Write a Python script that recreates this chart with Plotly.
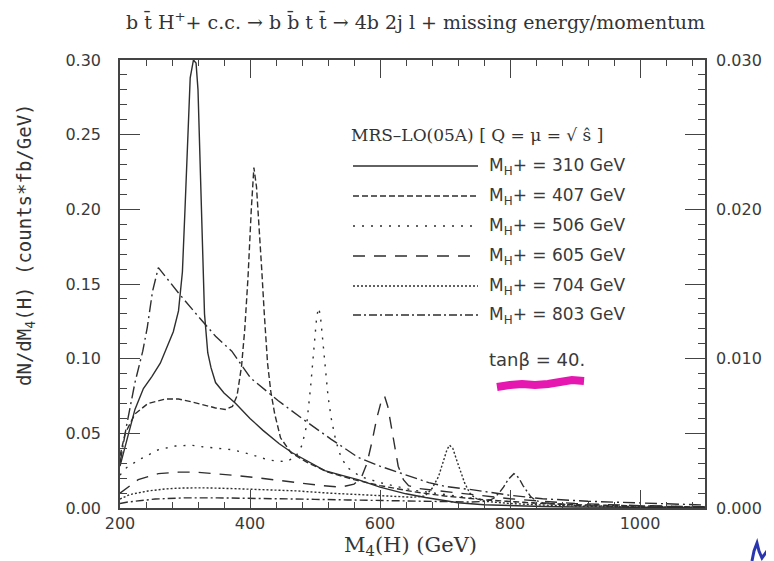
import plotly.graph_objects as go

# ---------------- data ----------------
mh310_x = [200, 212, 223, 236, 249, 262, 272, 282, 290, 296, 300, 304, 308, 313, 317, 320, 323, 326, 330, 335, 340, 347, 360, 378, 400, 420, 445, 465, 490, 515, 540, 566, 600, 640, 670, 700, 720, 760, 800, 850, 900, 1000, 1100]
mh310_y = [0.028, 0.048, 0.066, 0.080, 0.088, 0.097, 0.107, 0.118, 0.132, 0.158, 0.200, 0.250, 0.288, 0.300, 0.298, 0.280, 0.235, 0.175, 0.130, 0.104, 0.094, 0.084, 0.077, 0.070, 0.060, 0.052, 0.043, 0.037, 0.031, 0.025, 0.022, 0.019, 0.014, 0.0095, 0.0070, 0.0050, 0.0035, 0.0022, 0.0015, 0.0010, 0.0007, 0.0004, 0.0002]

mh407_x = [200, 208, 223, 243, 270, 290, 311, 330, 347, 362, 373, 380, 387, 392, 397, 402, 406, 410, 414, 418, 422, 427, 432, 438, 447, 463, 490, 520, 560, 600, 650, 700, 760, 800, 850, 900, 1000, 1100]
mh407_y = [0.035, 0.050, 0.063, 0.070, 0.073, 0.073, 0.071, 0.069, 0.067, 0.066, 0.068, 0.075, 0.095, 0.120, 0.155, 0.200, 0.228, 0.215, 0.190, 0.160, 0.130, 0.097, 0.078, 0.063, 0.047, 0.037, 0.030, 0.024, 0.019, 0.015, 0.011, 0.008, 0.0055, 0.0042, 0.003, 0.0022, 0.0012, 0.0006]

mh506_x = [200, 210, 228, 245, 259, 285, 310, 327, 350, 373, 400, 430, 455, 470, 480, 487, 493, 498, 502, 505, 508, 512, 516, 520, 525, 532, 540, 550, 570, 600, 650, 700, 750, 800, 900, 1000, 1100]
mh506_y = [0.022, 0.027, 0.032, 0.036, 0.039, 0.0415, 0.042, 0.041, 0.040, 0.039, 0.036, 0.032, 0.031, 0.034, 0.042, 0.055, 0.080, 0.105, 0.125, 0.134, 0.130, 0.112, 0.092, 0.075, 0.060, 0.045, 0.034, 0.027, 0.021, 0.017, 0.012, 0.009, 0.006, 0.0042, 0.0022, 0.0012, 0.0006]

mh605_x = [200, 210, 228, 259, 290, 316, 345, 373, 416, 468, 510, 540, 560, 571, 580, 588, 595, 601, 607, 612, 617, 622, 628, 636, 644, 660, 700, 750, 800, 850, 900, 1000, 1100]
mh605_y = [0.010, 0.013, 0.019, 0.023, 0.024, 0.024, 0.023, 0.022, 0.020, 0.017, 0.015, 0.014, 0.016, 0.020, 0.030, 0.045, 0.060, 0.070, 0.075, 0.068, 0.055, 0.042, 0.028, 0.019, 0.015, 0.013, 0.011, 0.0085, 0.0062, 0.0045, 0.003, 0.0016, 0.0008]

mh704_x = [200, 215, 243, 270, 296, 330, 373, 420, 470, 520, 570, 620, 650, 669, 680, 690, 697, 703, 707, 712, 718, 724, 730, 738, 746, 761, 800, 850, 900, 1000, 1100]
mh704_y = [0.006, 0.009, 0.0114, 0.0128, 0.0134, 0.0135, 0.013, 0.0125, 0.0115, 0.010, 0.0088, 0.0076, 0.0072, 0.0080, 0.013, 0.021, 0.030, 0.039, 0.042, 0.040, 0.032, 0.024, 0.017, 0.010, 0.0067, 0.0045, 0.0030, 0.0020, 0.0013, 0.0006, 0.0003]

mh803_x = [200, 212, 254, 300, 350, 400, 450, 500, 550, 600, 650, 700, 740, 765, 775, 783, 790, 797, 803, 806, 810, 815, 820, 826, 832, 840, 850, 900, 1000, 1100]
mh803_y = [0.003, 0.004, 0.006, 0.0068, 0.0068, 0.0066, 0.0062, 0.0058, 0.0054, 0.0050, 0.0046, 0.0042, 0.0040, 0.0045, 0.0065, 0.010, 0.014, 0.019, 0.022, 0.023, 0.022, 0.019, 0.015, 0.011, 0.0075, 0.005, 0.0035, 0.0018, 0.0008, 0.0004]

bkg_x = [200, 210, 223, 235, 242, 250, 259, 270, 290, 321, 347, 372, 401, 443, 483, 525, 566, 600, 633, 675, 700, 746, 800, 850, 920, 1000, 1100]
bkg_y = [0.030, 0.055, 0.084, 0.105, 0.121, 0.145, 0.161, 0.155, 0.144, 0.128, 0.115, 0.105, 0.087, 0.072, 0.059, 0.046, 0.034, 0.028, 0.023, 0.017, 0.0145, 0.012, 0.0085, 0.0062, 0.0045, 0.0032, 0.0020]

legend_labels = ["M<sub>H</sub>+ = 310 GeV", "M<sub>H</sub>+ = 407 GeV", "M<sub>H</sub>+ = 506 GeV",
                 "M<sub>H</sub>+ = 605 GeV", "M<sub>H</sub>+ = 704 GeV", "M<sub>H</sub>+ = 803 GeV"]
x_ticks = [200, 400, 600, 800, 1000]
y_ticks = [0.00, 0.05, 0.10, 0.15, 0.20, 0.25, 0.30]
y2_ticks = [0.000, 0.010, 0.020, 0.030]

# ---------------- styling ----------------
INK = "#2e2e2e"
AX = "#444444"
dashes = ["solid", "6px,3px", "2px,7px", "12px,9px", "2px,2px", "8px,3px,2px,3px"]
series = [(mh310_x, mh310_y), (mh407_x, mh407_y), (mh506_x, mh506_y),
          (mh605_x, mh605_y), (mh704_x, mh704_y), (mh803_x, mh803_y)]

PAGE_W, PAGE_H = 774, 561
OFF = 8                      # default page body margin
W, H = PAGE_W - OFF, PAGE_H - OFF
L, R, T, B = 120, 705, 60, 508   # plot area in page pixels


def px(xp):
    return (xp - L) / (R - L)


def py(yp):
    return (B - yp) / (B - T)


fig = go.Figure()
fig.add_trace(go.Scatter(x=bkg_x, y=bkg_y, mode="lines", showlegend=False,
                         line=dict(color=INK, width=1.4, dash="12px,4px,2px,4px")))
for (xs, ys), d, lab in zip(series, dashes, legend_labels):
    fig.add_trace(go.Scatter(x=xs, y=ys, mode="lines", name=lab, showlegend=False,
                             line=dict(color=INK, width=1.4, dash=d)))
fig.add_trace(go.Scatter(x=[], y=[], yaxis="y2", showlegend=False))

tickfont = dict(family="DejaVu Sans", size=16, color="#3a3a3a")
serif = "DejaVu Serif"

fig.update_layout(
    width=W, height=H,
    margin=dict(l=L - OFF, r=PAGE_W - R, t=T - OFF, b=PAGE_H - B),
    paper_bgcolor="white", plot_bgcolor="white",
    showlegend=False,
    xaxis=dict(range=[200, 1100], tickvals=x_ticks, ticks="inside", ticklen=18,
               tickwidth=1.3, tickcolor=AX, showline=True, linecolor=AX, linewidth=1.5,
               mirror="ticks", showgrid=False, zeroline=False, tickfont=tickfont,
               ticklabelstandoff=0,
               minor=dict(dtick=40, tick0=200, ticks="inside", ticklen=6, tickwidth=1.2,
                          tickcolor=AX, showgrid=False)),
    yaxis=dict(range=[0, 0.30], tickvals=y_ticks, tickformat=".2f", ticks="inside",
               ticklen=20, tickwidth=1.3, tickcolor=AX, showline=True, linecolor=AX,
               linewidth=1.5, mirror="ticks", showgrid=False, zeroline=False,
               tickfont=tickfont, ticklabelstandoff=14,
               minor=dict(dtick=0.01, ticks="inside", ticklen=7, tickwidth=1.2,
                          tickcolor=AX, showgrid=False)),
    yaxis2=dict(overlaying="y", side="right", range=[0, 0.030], tickvals=y2_ticks,
                tickformat=".3f", ticks="", showline=False, showgrid=False,
                zeroline=False, tickfont=tickfont, ticklabelstandoff=10),
)

ann = []
ann.append(dict(text="b t̄ H<sup>+</sup>+ c.c. → b b̄ t t̄ → 4b 2j l + missing energy/momentum",
                x=px(415), y=py(21), xref="paper", yref="paper", showarrow=False,
                xanchor="center", yanchor="middle",
                font=dict(family=serif, size=19, color="#333")))
ann.append(dict(text="dN/dM<sub>4</sub>(H) (counts*fb/GeV)", textangle=-90,
                x=px(25), y=py(245), xref="paper", yref="paper", showarrow=False,
                xanchor="center", yanchor="middle",
                font=dict(family="DejaVu Sans Mono", size=19, color="#333")))
ann.append(dict(text="M<sub>4</sub>(H) (GeV)",
                x=px(410), y=py(546), xref="paper", yref="paper", showarrow=False,
                xanchor="center", yanchor="middle",
                font=dict(family=serif, size=21, color="#333")))
ann.append(dict(text="MRS\u2013LO(05A) [ Q = μ = √ ŝ ]",
                x=px(349), y=py(135), xref="paper", yref="paper", showarrow=False,
                xanchor="left", yanchor="middle",
                font=dict(family=serif, size=17, color="#333")))

entry_y = [166, 196, 226, 256, 286, 315]
shapes = []
for lab, d, ey in zip(legend_labels, dashes, entry_y):
    ann.append(dict(text=lab, x=px(487), y=py(ey), xref="paper", yref="paper",
                    showarrow=False, xanchor="left", yanchor="middle",
                    font=dict(family="DejaVu Sans", size=17, color="#3a3a3a")))
    shapes.append(dict(type="line", xref="paper", yref="paper",
                       x0=px(353), x1=px(478), y0=py(ey), y1=py(ey),
                       line=dict(color=INK, width=1.4, dash=d)))

ann.append(dict(text="tanβ = 40.", x=px(487), y=py(359), xref="paper", yref="paper",
                showarrow=False, xanchor="left", yanchor="middle",
                font=dict(family="DejaVu Sans", size=18, color="#3a3a3a")))


def pathstr(points):
    s = "M {:.4f},{:.4f}".format(px(points[0][0]), py(points[0][1]))
    for a, b in points[1:]:
        s += " L {:.4f},{:.4f}".format(px(a), py(b))
    return s


magenta = [(497, 387), (510, 385), (522, 384), (535, 385), (548, 384), (560, 382),
           (572, 380), (584, 381)]
shapes.append(dict(type="path", xref="paper", yref="paper", path=pathstr(magenta),
                   line=dict(color="#e616b0", width=8)))
pen = [(752, 561), (754, 551), (757, 543), (759, 551), (762, 558), (767, 551), (774, 545)]
shapes.append(dict(type="path", xref="paper", yref="paper", path=pathstr(pen),
                   line=dict(color="#2a36b0", width=3)))

fig.update_layout(annotations=ann, shapes=shapes)
fig.write_html("out.html")
